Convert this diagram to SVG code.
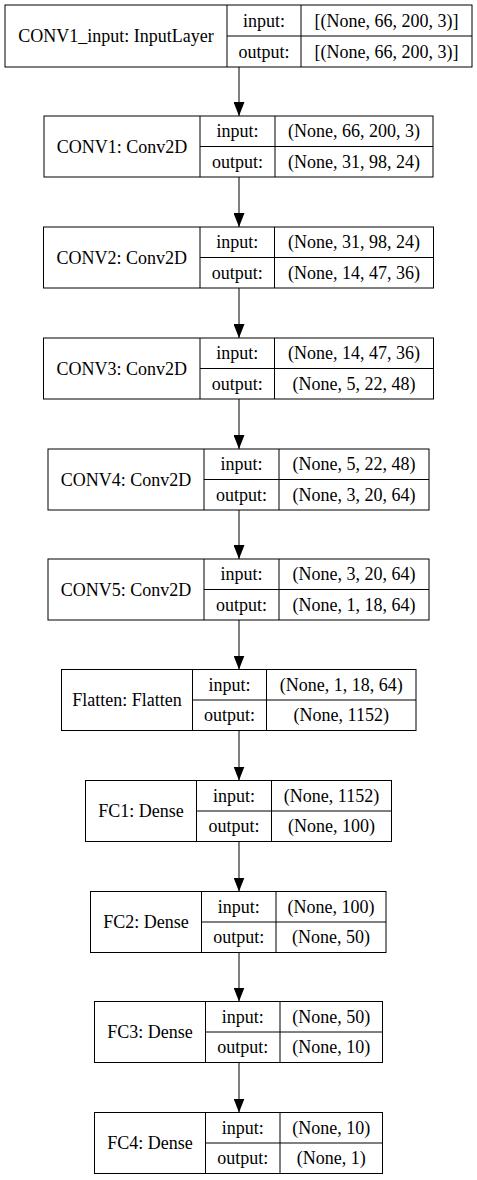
<svg xmlns="http://www.w3.org/2000/svg" width="477" height="1180" viewBox="0 0 477 1180" font-family="Liberation Serif, Times New Roman, serif" font-size="18">
<style>
.b{fill:#fff;stroke:#000;stroke-width:1}
.l{stroke:#000;stroke-width:1;fill:none}
text{fill:#000;text-anchor:middle}
.e{stroke:#000;stroke-width:1;fill:none;marker-end:url(#ah)}
</style>
<defs>
<marker id="ah" markerUnits="userSpaceOnUse" markerWidth="14" markerHeight="11" refX="14" refY="5.5" orient="auto" viewBox="0 0 14 11">
<path d="M0,0 L14,5.5 L0,11 z" fill="#000"/>
</marker>
</defs>
<rect width="477" height="1180" fill="#fff"/>
<g id="edges">
<line class="e" x1="239" y1="67" x2="239" y2="116"/>
<line class="e" x1="239" y1="177" x2="239" y2="227"/>
<line class="e" x1="239" y1="288" x2="239" y2="338"/>
<line class="e" x1="239" y1="399" x2="239" y2="449"/>
<line class="e" x1="239" y1="510" x2="239" y2="559"/>
<line class="e" x1="239" y1="620" x2="239" y2="669.5"/>
<line class="e" x1="239" y1="730.5" x2="239" y2="780.5"/>
<line class="e" x1="239" y1="841.5" x2="239" y2="891.5"/>
<line class="e" x1="239" y1="952.5" x2="239" y2="1001.5"/>
<line class="e" x1="239" y1="1062.5" x2="239" y2="1112.5"/>
</g>
<g id="n_input">
<rect class="b" x="5" y="5" width="467" height="62"/>
<path class="l" d="M227,5V67M301,5V67M227,36H472"/>
<text x="116" y="42">CONV1_input: InputLayer</text>
<text x="264" y="26.5">input:</text>
<text x="264" y="57.5">output:</text>
<text x="386.5" y="26.5">[(None, 66, 200, 3)]</text>
<text x="386.5" y="57.5">[(None, 66, 200, 3)]</text>
</g>
<g id="n_conv1">
<rect class="b" x="44" y="116" width="389" height="61"/>
<path class="l" d="M200,116V177M275,116V177M200,146.5H433"/>
<text x="122" y="152.5">CONV1: Conv2D</text>
<text x="237.5" y="137.25">input:</text>
<text x="237.5" y="167.75">output:</text>
<text x="354" y="137.25">(None, 66, 200, 3)</text>
<text x="354" y="167.75">(None, 31, 98, 24)</text>
</g>
<g id="n_conv2">
<rect class="b" x="43.5" y="227" width="390" height="61"/>
<path class="l" d="M200,227V288M274.5,227V288M200,257.5H433.5"/>
<text x="121.75" y="263.5">CONV2: Conv2D</text>
<text x="237.25" y="248.25">input:</text>
<text x="237.25" y="278.75">output:</text>
<text x="354" y="248.25">(None, 31, 98, 24)</text>
<text x="354" y="278.75">(None, 14, 47, 36)</text>
</g>
<g id="n_conv3">
<rect class="b" x="43.5" y="338" width="390" height="61"/>
<path class="l" d="M200,338V399M274.5,338V399M200,368.5H433.5"/>
<text x="121.75" y="374.5">CONV3: Conv2D</text>
<text x="237.25" y="359.25">input:</text>
<text x="237.25" y="389.75">output:</text>
<text x="354" y="359.25">(None, 14, 47, 36)</text>
<text x="354" y="389.75">(None, 5, 22, 48)</text>
</g>
<g id="n_conv4">
<rect class="b" x="48" y="449" width="381" height="61"/>
<path class="l" d="M204,449V510M279,449V510M204,479.5H429"/>
<text x="126" y="485.5">CONV4: Conv2D</text>
<text x="241.5" y="470.25">input:</text>
<text x="241.5" y="500.75">output:</text>
<text x="354" y="470.25">(None, 5, 22, 48)</text>
<text x="354" y="500.75">(None, 3, 20, 64)</text>
</g>
<g id="n_conv5">
<rect class="b" x="48" y="559" width="381" height="61"/>
<path class="l" d="M204,559V620M279,559V620M204,589.5H429"/>
<text x="126" y="595.5">CONV5: Conv2D</text>
<text x="241.5" y="580.25">input:</text>
<text x="241.5" y="610.75">output:</text>
<text x="354" y="580.25">(None, 3, 20, 64)</text>
<text x="354" y="610.75">(None, 1, 18, 64)</text>
</g>
<g id="n_flatten">
<rect class="b" x="61.5" y="669.5" width="354.5" height="61"/>
<path class="l" d="M192.5,669.5V730.5M266.5,669.5V730.5M192.5,700H416"/>
<text x="127" y="706">Flatten: Flatten</text>
<text x="229.5" y="690.75">input:</text>
<text x="229.5" y="721.25">output:</text>
<text x="341.25" y="690.75">(None, 1, 18, 64)</text>
<text x="341.25" y="721.25">(None, 1152)</text>
</g>
<g id="n_fc1">
<rect class="b" x="85.5" y="780.5" width="306" height="61"/>
<path class="l" d="M196.5,780.5V841.5M271.5,780.5V841.5M196.5,811H391.5"/>
<text x="141" y="817">FC1: Dense</text>
<text x="234" y="801.75">input:</text>
<text x="234" y="832.25">output:</text>
<text x="331.5" y="801.75">(None, 1152)</text>
<text x="331.5" y="832.25">(None, 100)</text>
</g>
<g id="n_fc2">
<rect class="b" x="90.5" y="891.5" width="295.5" height="61"/>
<path class="l" d="M201.5,891.5V952.5M276,891.5V952.5M201.5,922H386"/>
<text x="146" y="928">FC2: Dense</text>
<text x="238.75" y="912.75">input:</text>
<text x="238.75" y="943.25">output:</text>
<text x="331" y="912.75">(None, 100)</text>
<text x="331" y="943.25">(None, 50)</text>
</g>
<g id="n_fc3">
<rect class="b" x="94.5" y="1001.5" width="288" height="61"/>
<path class="l" d="M205.5,1001.5V1062.5M280,1001.5V1062.5M205.5,1032H382.5"/>
<text x="150" y="1038">FC3: Dense</text>
<text x="242.75" y="1022.75">input:</text>
<text x="242.75" y="1053.25">output:</text>
<text x="331.25" y="1022.75">(None, 50)</text>
<text x="331.25" y="1053.25">(None, 10)</text>
</g>
<g id="n_fc4">
<rect class="b" x="94.5" y="1112.5" width="288" height="61"/>
<path class="l" d="M205.5,1112.5V1173.5M280,1112.5V1173.5M205.5,1143H382.5"/>
<text x="150" y="1149">FC4: Dense</text>
<text x="242.75" y="1133.75">input:</text>
<text x="242.75" y="1164.25">output:</text>
<text x="331.25" y="1133.75">(None, 10)</text>
<text x="331.25" y="1164.25">(None, 1)</text>
</g>
</svg>
